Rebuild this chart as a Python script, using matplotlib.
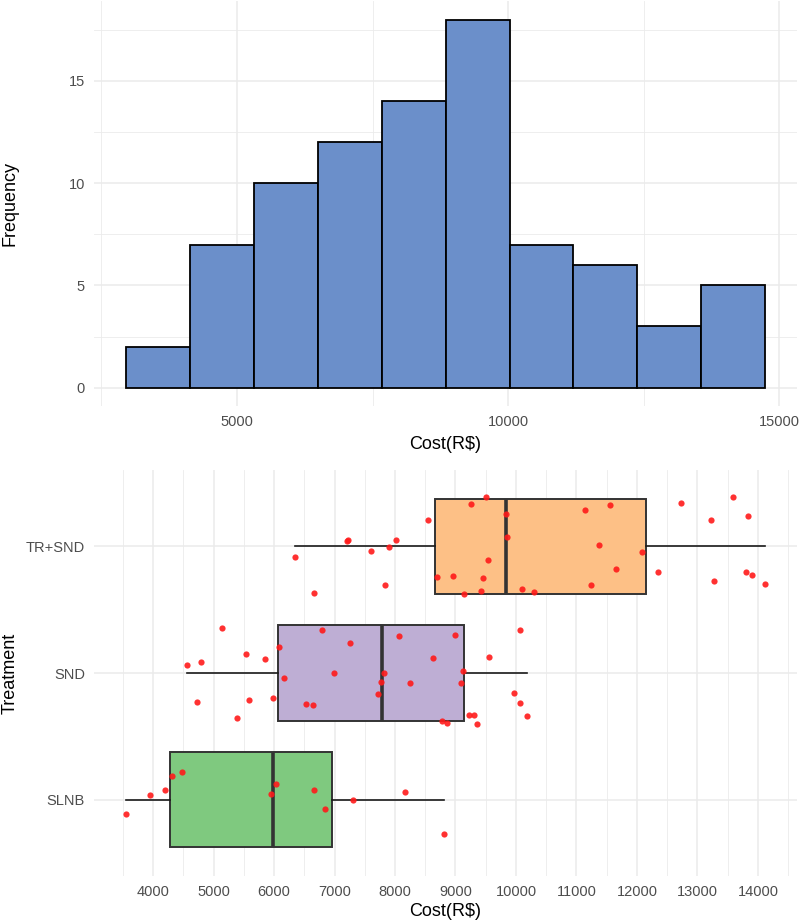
import matplotlib
matplotlib.use("Agg")
import matplotlib.pyplot as plt
import numpy as np

plt.rcParams['font.family'] = ['Liberation Sans', 'DejaVu Sans']

# ---------------- data ----------------
# Histogram (bins=10)
bin_left_edge = 2954
bin_width = 1178.6
hist_counts = [2, 7, 10, 12, 14, 18, 7, 6, 3, 5]

# Box plot categories (bottom to top)
treatments = ["SLNB", "SND", "TR+SND"]
box_colors = ["#7FC97F", "#BEAED4", "#FDC086"]
# box stats: whislo, q1, med, q3, whishi
box_whislo = [3552, 4562, 6339]
box_q1 = [4281, 6058, 8655]
box_med = [5982, 7789, 9839]
box_q3 = [6961, 9148, 12147]
box_whishi = [8806, 10181, 14121]

# jittered points: cost and vertical jitter (category units)
slnb_cost = [3552, 3954, 4190, 4319, 4486, 5944, 6027, 6658, 6840, 7311, 8161, 8806]
slnb_jit = [-0.108, 0.042, 0.079, 0.189, 0.220, 0.047, 0.129, 0.081, -0.071, 0.003, 0.066, -0.268]

snd_cost = [5147, 6794, 7257, 8062, 8996, 10074, 4562, 4797, 5534, 5845, 6080, 6172,
            6999, 7812, 7766, 7713, 8244, 8632, 9125, 9095, 9550, 9968, 10067, 10181,
            4721, 5579, 5982, 6528, 6650, 5382, 8784, 8852, 9216, 9307, 9353]
snd_jit = [0.354, 0.341, 0.239, 0.289, 0.299, 0.336, 0.060, 0.084, 0.150, 0.108, 0.205, -0.039,
           -0.003, 0.003, -0.071, -0.163, -0.081, 0.121, 0.013, -0.081, 0.126, -0.155, -0.239, -0.339,
           -0.231, -0.213, -0.199, -0.247, -0.252, -0.352, -0.375, -0.396, -0.328, -0.328, -0.399]

trsnd_cost = [9497, 9262, 11137, 11555, 12724, 13582, 13225, 13833, 8541, 9839, 7227, 7212,
              8009, 7895, 7599, 6339, 9847, 11373, 12079, 9535, 11661, 12352, 8700, 8958,
              9459, 13803, 13901, 13279, 14121, 7834, 6665, 9148, 9414, 10097, 10295, 11244]
trsnd_jit = [0.386, 0.331, 0.281, 0.323, 0.339, 0.388, 0.202, 0.239, 0.207, 0.252, 0.045, 0.037,
             0.052, -0.005, -0.042, -0.087, 0.073, 0.008, -0.050, -0.113, -0.181, -0.205, -0.241, -0.236,
             -0.255, -0.202, -0.231, -0.276, -0.297, -0.307, -0.370, -0.375, -0.352, -0.336, -0.360, -0.307]

hist_xticks = [5000, 10000, 15000]
hist_yticks = [0, 5, 10, 15]
box_xticks = list(range(4000, 14001, 1000))

# ---------------- figure ----------------
fig = plt.figure(figsize=(8, 9.23), dpi=100)
grid_c = "#EBEBEB"
tick_c = "#4D4D4D"
tick_fs = 10.5
title_fs = 13
ylab_x = (10 - 94) / 703.0

# Top: histogram
ax1 = fig.add_axes([0.1175, 0.560, 0.879, 0.4388])
edges = bin_left_edge + bin_width * np.arange(len(hist_counts))
ax1.bar(edges, hist_counts, width=bin_width, align='edge', color="#6B8FCA",
        edgecolor="black", linewidth=1.3, zorder=3)
lo = bin_left_edge
hi = bin_left_edge + bin_width * len(hist_counts)
pad = 0.05 * (hi - lo)
ax1.set_xlim(lo - pad, hi + pad)
ax1.set_ylim(-0.9, 18.9)
ax1.set_xticks(hist_xticks)
ax1.set_xticks([2500, 7500, 12500], minor=True)
ax1.set_yticks(hist_yticks)
ax1.set_yticks([2.5, 7.5, 12.5, 17.5], minor=True)
ax1.grid(which='major', color=grid_c, linewidth=1.1, zorder=0)
ax1.grid(which='minor', color=grid_c, linewidth=0.6, zorder=0)
ax1.set_axisbelow(True)
for s in ax1.spines.values():
    s.set_visible(False)
ax1.tick_params(which='both', length=0, labelsize=tick_fs, colors=tick_c, pad=6.5)
ax1.set_xlabel("Cost(R$)", fontsize=title_fs, va='center')
ax1.xaxis.set_label_coords(0.5, -(444 - 406) / 405.0)
ax1.set_ylabel("Frequency", fontsize=title_fs, va='center')
ax1.yaxis.set_label_coords(ylab_x, 0.5)

# Bottom: box plot
ax2 = fig.add_axes([0.1175, 0.0509, 0.879, 0.4399])
positions = [1, 2, 3]
stats = []
for i in range(3):
    stats.append(dict(med=box_med[i], q1=box_q1[i], q3=box_q3[i],
                      whislo=box_whislo[i], whishi=box_whishi[i], fliers=[]))
bp = ax2.bxp(stats, positions=positions, widths=0.75, orientation='horizontal',
             patch_artist=True, showcaps=False, showfliers=False,
             boxprops=dict(edgecolor="#333333", linewidth=1.4),
             whiskerprops=dict(color="#1a1a1a", linewidth=1.2),
             medianprops=dict(color="#333333", linewidth=2.6))
for patch, c in zip(bp['boxes'], box_colors):
    patch.set_facecolor(c)
    patch.set_zorder(2)
for w in bp['whiskers']:
    w.set_zorder(2)
for m in bp['medians']:
    m.set_zorder(2.5)

for pos, cost, jit in [(1, slnb_cost, slnb_jit), (2, snd_cost, snd_jit), (3, trsnd_cost, trsnd_jit)]:
    ax2.scatter(cost, pos + np.array(jit), s=20, color="#FF1A1A", alpha=0.9,
                linewidths=0, zorder=4)

allmin = min(box_whislo)
allmax = max(box_whishi)
p2 = 0.05 * (allmax - allmin)
ax2.set_xlim(allmin - p2, allmax + p2)
ax2.set_ylim(0.4, 3.6)
ax2.set_xticks(box_xticks)
ax2.set_xticks(np.arange(3500, 14600, 1000), minor=True)
ax2.set_yticks(positions)
ax2.set_yticklabels(treatments)
ax2.grid(which='major', color=grid_c, linewidth=1.1, zorder=0)
ax2.grid(which='minor', axis='x', color=grid_c, linewidth=0.6, zorder=0)
ax2.set_axisbelow(True)
for s in ax2.spines.values():
    s.set_visible(False)
ax2.tick_params(which='both', length=0, labelsize=tick_fs, colors=tick_c, pad=6.5)
ax2.set_xlabel("Cost(R$)", fontsize=title_fs, va='center')
ax2.xaxis.set_label_coords(0.5, -(911 - 876) / 406.0)
ax2.set_ylabel("Treatment", fontsize=title_fs, va='center')
ax2.yaxis.set_label_coords(ylab_x, 0.5)

fig.savefig("out.png", dpi=100, facecolor="white")
